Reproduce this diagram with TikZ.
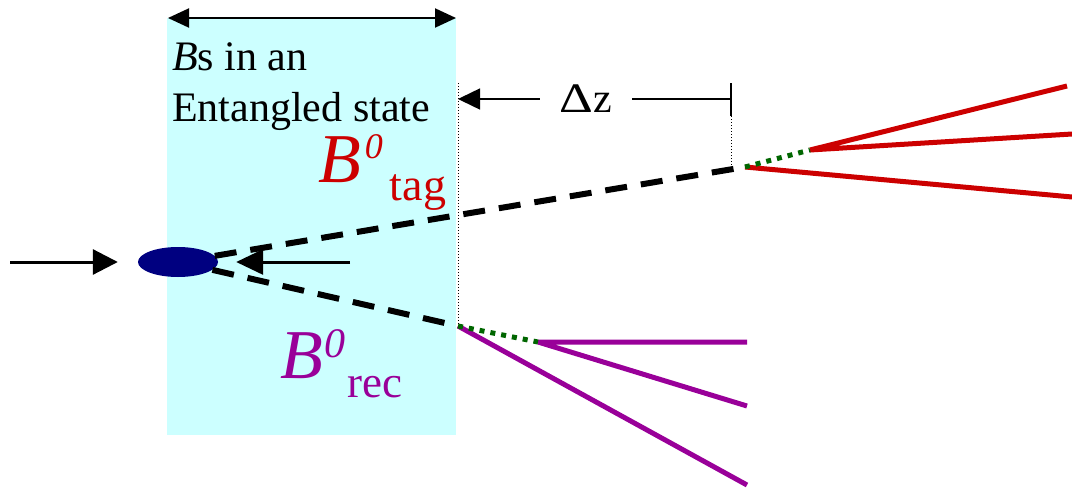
\documentclass[tikz,border=0pt]{standalone}
\usepackage{fontspec}
\setmainfont{Liberation Serif}
\usetikzlibrary{arrows.meta,shapes.geometric}
\definecolor{tagred}{RGB}{204,0,0}
\definecolor{recmag}{RGB}{153,0,153}
\definecolor{vtxgreen}{RGB}{0,102,0}
\definecolor{boxcyan}{RGB}{204,255,255}
\definecolor{beamblue}{RGB}{0,0,128}

\begin{document}
\begin{tikzpicture}[x=1pt,y=-1pt,
  bdash/.style={line width=6pt,dash pattern=on 22pt off 14pt},
  gdot/.style={vtxgreen,line width=5pt,dash pattern=on 5pt off 6pt},
  trk/.style={line width=5pt},
  txt/.style={anchor=base west,inner sep=0pt,font=\fontsize{42}{48}\selectfont}]
 \useasboundingbox (0,0) rectangle (1072,490);
 % entangled region
 \fill[boxcyan] (167,18) rectangle (456,435);
 \coordinate (boxl) at (168,18); \coordinate (boxr) at (456,18);
 \draw[line width=2pt,{Triangle[length=21pt,width=19pt]}-{Triangle[length=21pt,width=19pt]}] (boxl) -- (boxr);
 \node[txt] (ent1) at (172,70) {\textit{B}s in an};
 \node[txt] (ent2) at (172,121) {Entangled state};
 % beams
 \node[ellipse,fill=beamblue,minimum width=80pt,minimum height=30pt,inner sep=0pt] (ip) at (178,262) {};
 \coordinate (beaml) at (10,262); \coordinate (beamr) at (350,262);
 \draw[line width=3pt,-{Triangle[length=25pt,width=25pt]},shorten >=20pt] (beaml) -- (ip.west);
 \draw[line width=3pt,-{Triangle[length=27pt,width=25pt]},shorten >=18pt] (beamr) -- (ip.east);
 % B decays
 \coordinate (tagv) at (745,167); \coordinate (tagd) at (810,150);
 \coordinate (recv) at (458,326); \coordinate (recd) at (538,342);
 \draw[bdash] (ip) -- (tagv); \draw[bdash] (ip) -- (recv);
 \coordinate (t1) at (1067,86); \coordinate (t2) at (1072,134); \coordinate (t3) at (1072,197);
 \draw[trk,tagred] (tagd) -- (t1) (tagd) -- (t2) (tagv) -- (t3);
 \coordinate (r1) at (747,342); \coordinate (r2) at (747,406); \coordinate (r3) at (747,485);
 \draw[trk,recmag] (recd) -- (r1) (recd) -- (r2) (recv) -- (r3);
 \draw[gdot] (tagv) -- (tagd); \draw[gdot] (recv) -- (recd);
 % delta z
 \coordinate (zl) at (458,83); \coordinate (zr) at (731,83);
 \coordinate (zrb) at (731,116); \coordinate (zrt) at (731,165);
 \draw[dotted,line width=1pt] (zl) -- (recv); \draw[dotted,line width=1pt] (zrb) -- (zrt);
 \node[inner xsep=20pt,inner ysep=0pt,font=\fontsize{42}{48}\selectfont] (dz) at (586,99) {\scalebox{1.25}[1]{Δ}z};
 \draw[line width=1.5pt,-{Triangle[length=22pt,width=21pt]}] (dz) -- (zl |- dz);
 \draw[line width=1.5pt] (dz) -- (zr |- dz); \draw[line width=1.5pt] (zr) -- (zrb);
 % labels
 \node[anchor=base west,inner sep=0pt,tagred] (btag) at (318,182) {\fontsize{70}{70}\selectfont\textit{B}\hspace{4pt}\raisebox{24pt}{\fontsize{36}{36}\selectfont\textit{0}}\hspace{7pt}\raisebox{-18pt}{\fontsize{46}{46}\selectfont tag}};
 \node[anchor=base west,inner sep=0pt,recmag] (brec) at (280,378) {\fontsize{70}{70}\selectfont\textit{B}\hspace{2pt}\raisebox{21pt}{\fontsize{42}{42}\selectfont\textit{0}}\hspace{2pt}\raisebox{-19pt}{\fontsize{45}{45}\selectfont rec}};
\end{tikzpicture}
\end{document}
